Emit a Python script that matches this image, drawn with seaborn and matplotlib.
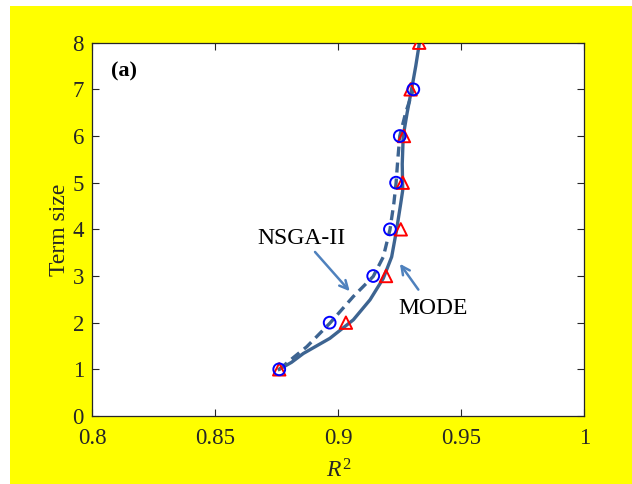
import seaborn as sns
import matplotlib.pyplot as plt
import pandas as pd
from matplotlib.patches import Rectangle

# Pareto points
terms_nsga = [1, 2, 3, 4, 5, 6, 7]
r2_nsga = [0.876, 0.8965, 0.9142, 0.921, 0.9235, 0.925, 0.9305]
terms_mode = [1, 2, 3, 4, 5, 6, 7, 8]
r2_mode = [0.876, 0.9031, 0.9194, 0.9254, 0.9262, 0.9267, 0.9294, 0.9329]

# smooth fitted curves
nsga_curve_terms = [1.0, 1.25, 1.485, 1.99, 2.56, 2.99, 3.41, 3.99, 4.56, 5.0, 5.5, 6.0, 6.5, 7.0]
nsga_curve_r2 = [0.876, 0.8817, 0.8872, 0.8966, 0.9061, 0.9142, 0.9183, 0.921, 0.9226, 0.9235, 0.9242, 0.925, 0.9274, 0.9305]
mode_curve_terms = [1.0, 1.15, 1.34, 1.665, 2.06, 2.49, 2.95, 3.41, 3.99, 4.56, 4.84, 5.4, 6.0, 6.5, 7.0, 7.5, 8.0]
mode_curve_r2 = [0.876, 0.881, 0.8858, 0.8966, 0.9061, 0.9129, 0.9183, 0.9217, 0.9237, 0.9254, 0.9262, 0.926, 0.9264, 0.928, 0.9298, 0.9315, 0.933]

x_ticks = [0.8, 0.85, 0.9, 0.95, 1.0]
x_tick_labels = ["0.8", "0.85", "0.9", "0.95", "1"]
y_ticks = [0, 1, 2, 3, 4, 5, 6, 7, 8]

line_color = "#3D6491"
arrow_color = "#4F81BD"
ink = "#262626"

plt.rcParams["font.family"] = ["Liberation Serif", "DejaVu Serif"]
plt.rcParams["mathtext.fontset"] = "custom"
plt.rcParams["mathtext.it"] = "Liberation Serif:italic"
plt.rcParams["mathtext.rm"] = "Liberation Serif"

fig = plt.figure(figsize=(6.32, 4.84), dpi=100, facecolor="white")
fig.patches.append(Rectangle((10 / 632, 0), 1, 478 / 484, transform=fig.transFigure,
                             facecolor="#FFFF00", edgecolor="none", zorder=-10))
ax = fig.add_axes([0.146, 0.1405, 0.7785, 0.7713])
ax.set_facecolor("white")

nsga_curve = pd.DataFrame({"r2": nsga_curve_r2, "terms": nsga_curve_terms})
mode_curve = pd.DataFrame({"r2": mode_curve_r2, "terms": mode_curve_terms})
sns.lineplot(data=mode_curve, x="r2", y="terms", sort=False, estimator=None,
             color=line_color, linewidth=2.4, ax=ax)
sns.lineplot(data=nsga_curve, x="r2", y="terms", sort=False, estimator=None,
             color=line_color, linewidth=2.4, linestyle=(0, (3, 1.8)), ax=ax)

sns.scatterplot(x=r2_mode, y=terms_mode, marker="^", s=80, facecolors="none",
                edgecolor="#FF0000", linewidth=1.4, ax=ax, zorder=3)
sns.scatterplot(x=r2_nsga, y=terms_nsga, marker="o", s=72, facecolors="none",
                edgecolor="#0000FF", linewidth=1.4, ax=ax, zorder=4)

ax.annotate("", xy=(0.9054, 2.63), xytext=(0.8898, 3.56),
            arrowprops=dict(arrowstyle="->,head_length=0.6,head_width=0.3", color=arrow_color, lw=1.8))
ax.annotate("", xy=(0.9244, 3.31), xytext=(0.9332, 2.66),
            arrowprops=dict(arrowstyle="->,head_length=0.6,head_width=0.3", color=arrow_color, lw=1.8))
ax.text(0.8672, 3.81, "NSGA-II", fontsize=17, color="black", va="center", ha="left")
ax.text(0.9244, 2.31, "MODE", fontsize=17, color="black", va="center", ha="left")
ax.text(0.8075, 7.38, "(a)", fontsize=16, fontweight="bold", color="black", va="center", ha="left")

ax.set_xlim(0.8, 1.0)
ax.set_ylim(0, 8)
ax.set_xticks(x_ticks)
ax.set_xticklabels(x_tick_labels)
ax.set_yticks(y_ticks)
ax.tick_params(direction="in", length=5, width=0.8, colors=ink, labelsize=16.5,
               top=True, right=True)
ax.tick_params(axis="x", pad=9)
ax.tick_params(axis="y", pad=6)
for s in ax.spines.values():
    s.set_color(ink)
    s.set_linewidth(0.9)
ax.set_xlabel("$R^2$", fontsize=17, color=ink, labelpad=7)
ax.set_ylabel("Term size", fontsize=17, color=ink, labelpad=2)

plt.savefig("out.png", dpi=100, facecolor=fig.get_facecolor())
